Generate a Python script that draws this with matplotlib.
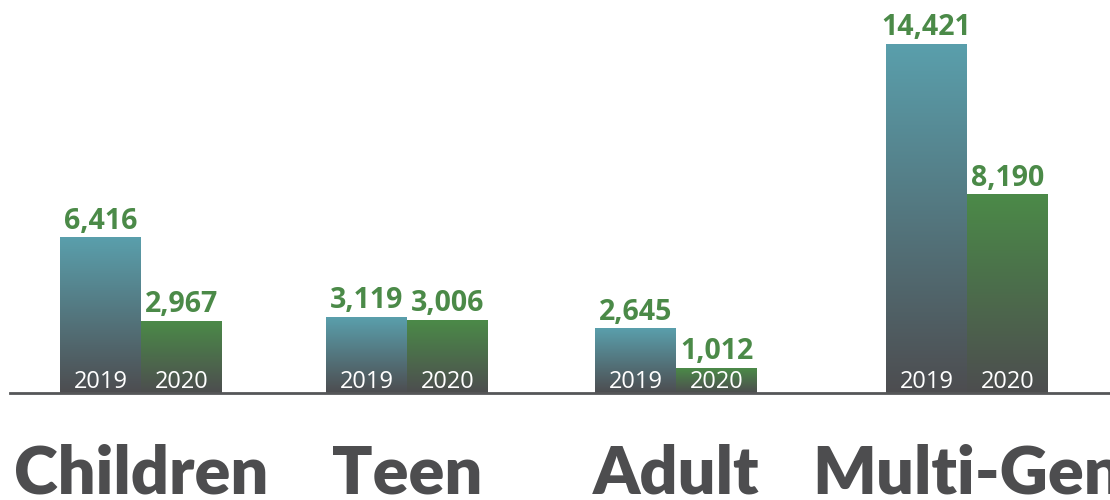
import matplotlib
matplotlib.use("Agg")
import matplotlib.pyplot as plt
import numpy as np
from matplotlib.colors import LinearSegmentedColormap

categories = ["Children", "Teen", "Adult", "Multi-Gen"]
values_2019 = [6416, 3119, 2645, 14421]
values_2020 = [2967, 3006, 1012, 8190]
years = ["2019", "2020"]

# layout (axes units ~ pixels from the left edge of the axis line)
centers = [131, 397, 666, 957]
bar_w = 81

plt.rcParams["font.family"] = ["Open Sans", "DejaVu Sans"]

cmap_2019 = LinearSegmentedColormap.from_list("c19", ["#4d4d50", "#5a9fac"])
cmap_2020 = LinearSegmentedColormap.from_list("c20", ["#4d4d4f", "#4b8a48"])
green = "#4b8a48"
dark = "#4d4d4f"

fig = plt.figure(figsize=(11.1, 5), dpi=100)
ax = fig.add_axes([10 / 1110, 107 / 500, 1100 / 1110, 393 / 500])
ax.set_xlim(0, 1100)
ax.set_ylim(0, 16240)
ax.axis("off")

grad = np.linspace(0, 1, 256).reshape(-1, 1)

for i, cat in enumerate(categories):
    for j, (vals, cmap) in enumerate([(values_2019, cmap_2019), (values_2020, cmap_2020)]):
        x0 = centers[i] - bar_w + j * bar_w
        v = vals[i]
        ax.imshow(grad, extent=[x0, x0 + bar_w, 0, v], origin="lower",
                  aspect="auto", cmap=cmap, interpolation="bicubic", zorder=2)
        ax.annotate(f"{v:,}", xy=(x0 + bar_w / 2, v), xytext=(0, 6.5),
                    textcoords="offset points", ha="center", va="baseline",
                    fontsize=20.5, fontweight="bold", color=green, zorder=3)
        ax.annotate(years[j], xy=(x0 + bar_w / 2, 0), xytext=(0, 3.6),
                    textcoords="offset points", ha="center", va="baseline",
                    fontsize=17, color="white", zorder=3)
    ax.annotate(cat, xy=(centers[i], 0), xytext=(0, -72),
                textcoords="offset points", ha="center", va="baseline",
                fontsize=48, fontweight="heavy", family=["Lato", "DejaVu Sans"],
                color=dark, annotation_clip=False)

ax.axhline(0, color="#555658", linewidth=2, zorder=4, clip_on=False)

fig.savefig("out.png", dpi=100)
